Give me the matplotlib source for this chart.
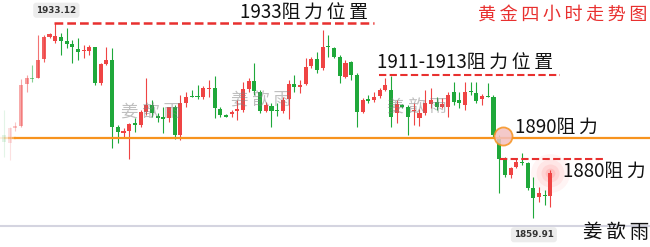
import matplotlib.pyplot as plt
import numpy as np

plt.rcParams['font.family'] = ['Noto Sans CJK SC', 'DejaVu Sans']

# 4-hour gold candles (open, high, low, close)
opens = [1891.0, 1888.1, 1893.5, 1894.4, 1910.1, 1912.4, 1912.5, 1919.5, 1927.6, 1926.25,
         1927.9, 1926.25, 1925.1, 1923.4, 1922.4, 1922.6, 1923.9, 1910.6, 1917.6, 1919.1,
         1893.9, 1891.9, 1892.6, 1895.4, 1894.75, 1899.75, 1902.25, 1898.1, 1897.6, 1897.25,
         1901.4, 1891.0, 1902.9, 1905.75, 1905.5, 1905.1, 1908.4, 1908.5, 1900.6, 1898.4,
         1898.8, 1900.1, 1900.4, 1908.1, 1911.25, 1907.25, 1900.1, 1901.9, 1900.1, 1899.9,
         1904.4, 1910.1, 1909.1, 1910.0, 1916.9, 1919.4, 1916.0, 1924.4, 1923.5, 1920.4,
         1912.9, 1918.5, 1913.5, 1899.75, 1904.4, 1904.1, 1905.6, 1907.9, 1907.9, 1899.1,
         1902.25, 1901.4, 1900.0, 1897.3, 1899.4, 1902.6, 1903.5, 1901.5, 1901.6, 1907.2,
         1904.1, 1902.25, 1907.6, 1906.9, 1904.4, 1905.75, 1905.4, 1890.4, 1881.9, 1876.0,
         1878.9, 1881.0, 1880.4, 1871.0, 1867.9, 1868.6, 1868.25]
highs = [1900.4, 1894.1, 1896.0, 1912.0, 1913.5, 1917.3, 1928.5, 1928.5, 1929.1, 1933.12,
         1929.25, 1931.1, 1926.6, 1927.4, 1924.8, 1924.8, 1924.1, 1917.9, 1924.1, 1923.6,
         1894.75, 1893.5, 1895.5, 1897.4, 1900.4, 1912.25, 1904.1, 1899.1, 1901.5, 1901.6,
         1902.25, 1906.0, 1907.2, 1907.9, 1909.75, 1909.4, 1911.6, 1913.1, 1901.4, 1898.9,
         1900.4, 1904.1, 1911.0, 1912.25, 1917.9, 1907.9, 1903.5, 1902.9, 1902.9, 1905.4,
         1911.6, 1913.5, 1911.6, 1919.8, 1920.4, 1922.25, 1930.4, 1928.5, 1924.1, 1921.0,
         1919.1, 1918.9, 1914.1, 1904.75, 1906.0, 1907.2, 1908.5, 1912.25, 1913.1, 1904.1,
         1902.6, 1902.25, 1903.0, 1900.6, 1907.9, 1908.6, 1905.4, 1904.9, 1907.2, 1911.0,
         1907.2, 1911.0, 1911.0, 1911.0, 1906.4, 1910.4, 1906.0, 1891.0, 1882.9, 1879.1,
         1881.9, 1884.25, 1881.0, 1875.4, 1871.6, 1870.4, 1877.9]
lows = [1882.9, 1881.6, 1892.6, 1894.0, 1907.2, 1910.9, 1912.3, 1918.5, 1927.4, 1925.6,
        1921.0, 1923.6, 1918.0, 1919.1, 1919.8, 1921.0, 1909.75, 1909.75, 1917.3, 1886.1,
        1888.0, 1890.4, 1881.9, 1892.2, 1894.1, 1898.5, 1897.9, 1896.0, 1891.75, 1896.0,
        1889.4, 1889.1, 1901.4, 1905.1, 1904.4, 1904.4, 1905.4, 1897.4, 1897.9, 1897.6,
        1897.9, 1896.6, 1899.75, 1907.2, 1906.0, 1899.4, 1899.75, 1894.1, 1898.2, 1899.1,
        1896.9, 1907.2, 1906.6, 1909.75, 1916.0, 1914.1, 1915.4, 1920.4, 1919.8, 1910.4,
        1912.3, 1911.6, 1894.1, 1899.1, 1902.9, 1903.5, 1904.75, 1907.6, 1893.9, 1895.5,
        1901.0, 1891.0, 1894.75, 1894.3, 1898.5, 1901.1, 1900.4, 1901.1, 1897.9, 1902.25,
        1901.0, 1900.4, 1906.0, 1902.9, 1902.25, 1905.1, 1890.4, 1869.1, 1875.4, 1874.8,
        1878.5, 1879.75, 1870.4, 1859.91, 1866.0, 1864.75, 1864.1]
closes = [1888.5, 1893.5, 1894.4, 1909.75, 1912.4, 1912.0, 1919.1, 1927.75, 1928.8, 1928.1,
          1926.4, 1925.1, 1923.9, 1922.2, 1922.6, 1924.1, 1910.6, 1917.6, 1919.1, 1894.1,
          1892.2, 1892.5, 1895.1, 1894.6, 1899.5, 1902.25, 1899.1, 1897.3, 1897.1, 1901.4,
          1891.0, 1902.9, 1905.4, 1905.4, 1905.1, 1908.5, 1908.8, 1901.0, 1898.5, 1897.9,
          1899.6, 1900.6, 1908.1, 1911.25, 1907.5, 1900.1, 1902.25, 1900.1, 1899.9, 1904.1,
          1910.0, 1909.1, 1909.75, 1916.6, 1919.4, 1915.4, 1924.1, 1923.9, 1920.4, 1913.1,
          1918.1, 1913.5, 1899.75, 1904.1, 1903.9, 1905.4, 1907.9, 1909.75, 1897.9, 1902.6,
          1901.6, 1897.6, 1900.3, 1899.4, 1902.9, 1904.1, 1901.6, 1902.8, 1906.0, 1903.5,
          1903.0, 1907.2, 1907.1, 1903.9, 1905.6, 1905.4, 1891.0, 1881.9, 1876.0, 1878.7,
          1881.0, 1880.6, 1871.0, 1867.25, 1869.1, 1868.3, 1876.6]

level_top = 1933.12
level_mid = 1913.5
level_1890 = 1890.0
level_1880 = 1881.9
period_high = 1933.12
period_low = 1859.91

UP = '#ef4444'
DOWN = '#1fa83a'
TS = '\u2009'  # thin space, taken from DejaVu since the CJK font lacks it

fig = plt.figure(figsize=(6.5, 2.47), dpi=100)
ax = fig.add_axes([0, 0, 1, 1])
ax.set_xlim(-0.7, 113.5)
ax.set_ylim(1849.0, 1941.63)
ax.axis('off')

n = len(opens)
x = np.arange(n)
fade = [0.12, 0.16, 0.3, 0.45, 0.5, 0.55, 0.75, 0.85, 0.95]
for i in range(n):
    o, h, l, c = opens[i], highs[i], lows[i], closes[i]
    col = UP if c >= o else DOWN
    a = fade[i] if i < len(fade) else 1.0
    ax.vlines(x[i], l, h, color=col, lw=0.8, alpha=a, zorder=3)
    ax.bar(x[i], max(abs(c - o), 0.35), bottom=min(o, c), width=0.72,
           color=col, alpha=a, zorder=4, linewidth=0)

# glow around the last candle
for r, al in [(28, 0.05), (20, 0.07), (13, 0.09), (7, 0.12)]:
    ax.scatter(x[-1], closes[-1], s=r ** 2, color='#ff3030', alpha=al, lw=0, zorder=2)

# 1890 line, fading in on the left edge
ax.plot([2.0, 113.5], [level_1890, level_1890], color='#f7931e', lw=1.6, zorder=5)
for k, al in enumerate([0.15, 0.3, 0.5, 0.75]):
    ax.plot([-0.7 + k * 0.7, 0.0 + k * 0.7], [level_1890, level_1890], color='#f7931e',
            lw=1.6, alpha=al, zorder=5, solid_capstyle='butt')
ax.scatter(87.6, level_1890 + 0.5, s=170, facecolor='#f3c0c0', edgecolor='#f7931e',
           lw=1.3, alpha=0.85, zorder=6)

# bottom baseline
ax.axhline(1856.9, color='#d4d4e0', lw=1.5, zorder=1)

# dashed resistance lines
ax.plot([8.8, 65.0], [level_top, level_top], color='#e8302f', lw=1.8,
        dashes=(3.5, 1.6), zorder=5)
ax.plot([65.8, 97.7], [level_mid, level_mid], color='#e8302f', lw=1.5,
        dashes=(3.5, 1.6), zorder=5)
ax.plot([87.2, 105.3], [level_1880, level_1880], color='#e8302f', lw=1.5,
        dashes=(3.5, 1.6), zorder=5)

txt = dict(color='#111111', fontsize=13.5, fontweight='light', zorder=7,
           va='center', ha='left')
ax.text(41.5, 1936.6, '1933' + TS.join('阻力位置'), **txt)
ax.text(65.5, 1917.9, '1911-1913' + TS.join('阻力位置'), **txt)
ax.text(89.8, 1893.8, '1890阻' + TS + '力', **txt)
ax.text(98.3, 1877.4, '1880阻' + TS + '力', **txt)
ax.text(113.0, 1936.0, TS.join('黄金四小时走势图'), color='#e8302f', fontsize=13,
        fontweight='light', ha='right', va='center', zorder=7)
ax.text(113.4, 1854.6, TS.join('姜歆雨'), color='#111111', fontsize=14,
        fontweight='light', ha='right', va='center', zorder=7)

# watermarks
for wx, wy in [(20.6, 1899.4), (39.8, 1904.0), (67.3, 1901.3)]:
    ax.text(wx, wy, '姜 歆 雨', color='#808080', alpha=0.5, fontsize=12.5,
            fontweight='light', ha='left', va='center', zorder=6)

# high / low tooltips
box = dict(boxstyle='round,pad=0.35', fc='#ececec', ec='none')
ax.text(9.2, 1937.8, f'{period_high:.2f}', fontsize=6.3, fontweight='bold',
        color='#333333', ha='center', va='center', bbox=box, zorder=8,
        family='DejaVu Sans')
ax.text(93.1, 1853.6, f'{period_low:.2f}', fontsize=6.3, fontweight='bold',
        color='#333333', ha='center', va='center', bbox=box, zorder=8,
        family='DejaVu Sans')

fig.savefig('out.png', dpi=100)
